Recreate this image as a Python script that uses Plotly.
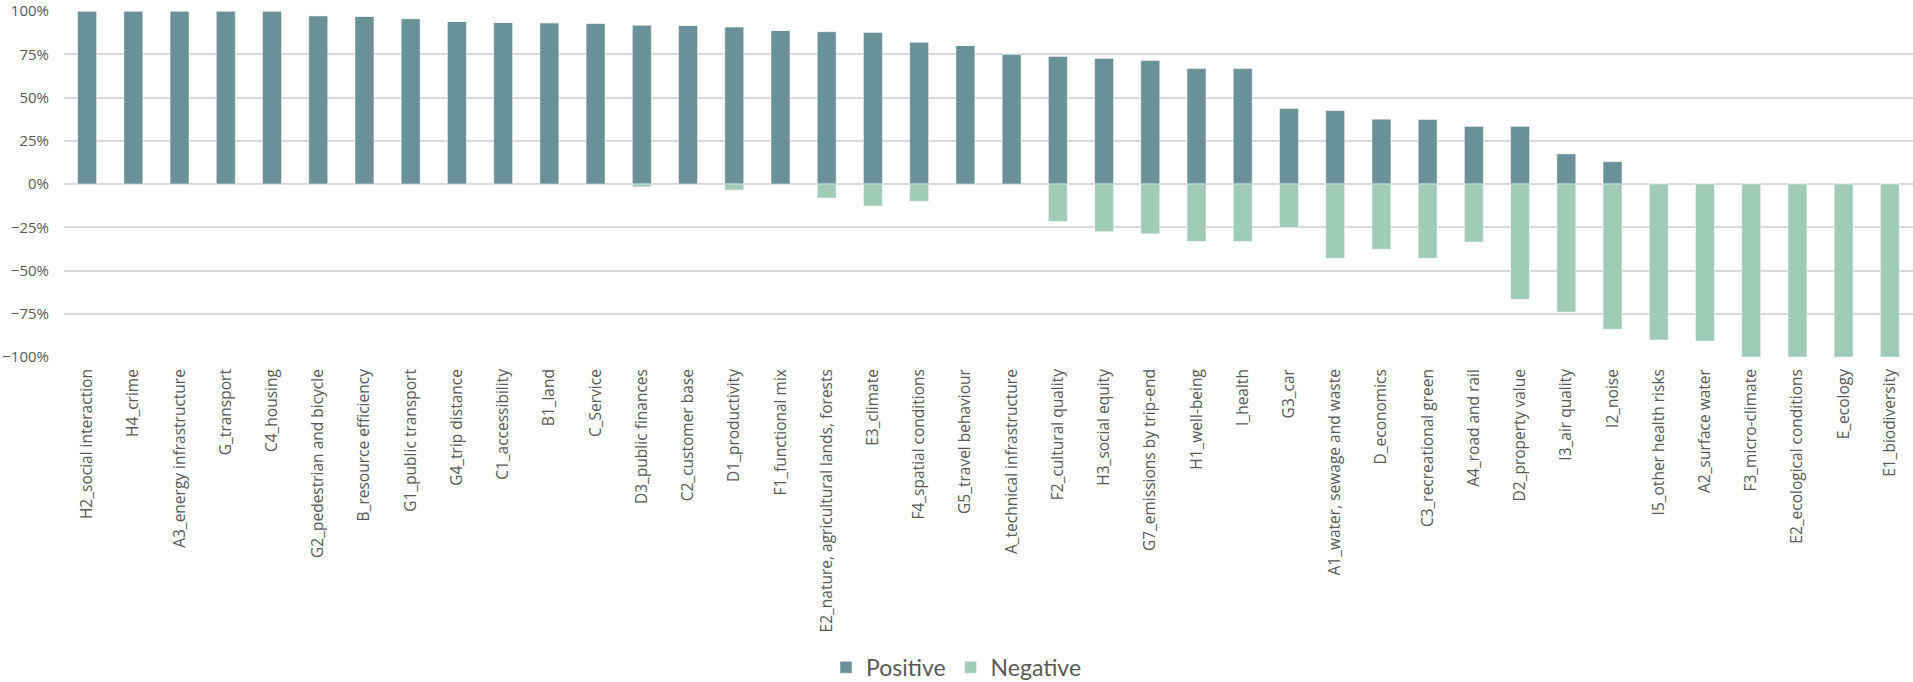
import plotly.graph_objects as go

categories = [
    "H2_social interaction", "H4_crime", "A3_energy infrastructure", "G_transport",
    "C4_housing", "G2_pedestrian and bicycle", "B_resource efficiency",
    "G1_public transport", "G4_trip distance", "C1_accessibility", "B1_land",
    "C_Service", "D3_public finances", "C2_customer base", "D1_productivity",
    "F1_functional mix", "E2_nature, agricultural lands, forests", "E3_climate",
    "F4_spatial conditions", "G5_travel behaviour", "A_technical infrastructure",
    "F2_cultural quality", "H3_social equity", "G7_emissions by trip-end",
    "H1_well-being", "I_health", "G3_car", "A1_water, sewage and waste",
    "D_economics", "C3_recreational green", "A4_road and rail",
    "D2_property value", "I3_air quality", "I2_noise", "I5_other health risks",
    "A2_surface water", "F3_micro-climate", "E2_ecological conditions",
    "E_ecology", "E1_biodiversity",
]

positive = [
    1.00, 1.00, 1.00, 1.00, 1.00, 0.973, 0.969, 0.956, 0.940, 0.934, 0.932,
    0.929, 0.917, 0.917, 0.907, 0.888, 0.880, 0.876, 0.819, 0.801, 0.751,
    0.737, 0.726, 0.714, 0.667, 0.667, 0.436, 0.425, 0.375, 0.373, 0.333,
    0.333, 0.174, 0.129, 0.0, 0.0, 0.0, 0.0, 0.0, 0.0,
]

negative = [
    0.0, 0.0, 0.0, 0.0, 0.0, 0.0, 0.0, 0.0, 0.0, 0.0, 0.0, 0.0, -0.017,
    0.0, -0.035, 0.0, -0.081, -0.127, -0.100, 0.0, 0.0, -0.216, -0.276,
    -0.288, -0.333, -0.333, -0.252, -0.429, -0.377, -0.429, -0.335, -0.667,
    -0.740, -0.840, -0.902, -0.908, -1.00, -1.00, -1.00, -1.00,
]

series_names = ["Positive", "Negative"]
series_colors = ["#6A9198", "#A0CBB9"]

fig = go.Figure()
for name, vals, col in zip(series_names, [positive, negative], series_colors):
    fig.add_trace(go.Bar(
        x=categories, y=vals, name=name,
        marker=dict(color=col, line=dict(color="rgba(255,255,255,0.6)", width=0.8)),
    ))

fig.update_layout(
    width=1913, height=682,
    margin=dict(l=64, r=0, t=11, b=325),
    barmode="relative",
    bargap=0.59,
    plot_bgcolor="white", paper_bgcolor="white",
    font=dict(family="Open Sans, sans-serif", color="#595959", size=15),
    legend=dict(
        orientation="h", xref="container", yref="container",
        x=0.5, y=0.0215, xanchor="center", yanchor="middle",
        font=dict(family="Lato, sans-serif", size=23, color="#595959"),
        itemwidth=30, traceorder="normal",
    ),
    showlegend=True,
)

fig.update_xaxes(
    tickangle=-90, showgrid=False, showline=False, ticks="",
    tickfont=dict(size=15.5, color="#595959"), ticklabelstandoff=8,
)
fig.update_yaxes(
    range=[-1, 1], dtick=0.25, tick0=0, tickformat=".0%",
    showgrid=True, gridcolor="#D9D9D9", gridwidth=1.5,
    zeroline=True, zerolinecolor="#D9D9D9", zerolinewidth=1.5,
    showline=False, ticks="", ticklabeloverflow="allow",
    tickfont=dict(size=15, color="#595959"), ticklabelstandoff=14,
)

fig.write_html(
    "out.html",
    config={"displayModeBar": False},
    post_script="document.body.style.margin='0px';",
)
